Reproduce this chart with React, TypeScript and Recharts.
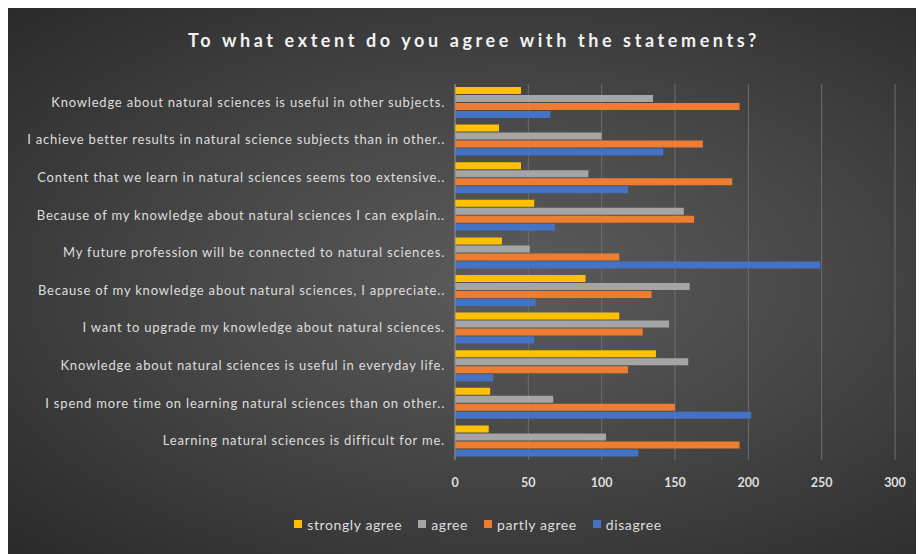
import React from "react";
import { Bar, BarChart, CartesianGrid, Legend, XAxis, YAxis } from "recharts";

const statements = [
  "Knowledge about natural sciences is useful in other subjects.",
  "I achieve better results in natural science subjects than in other..",
  "Content that we learn in natural sciences seems too extensive..",
  "Because of my knowledge about natural sciences I can explain..",
  "My future profession will be connected to natural sciences.",
  "Because of my knowledge about natural sciences, I appreciate..",
  "I want to upgrade my knowledge about natural sciences.",
  "Knowledge about natural sciences is useful in everyday life.",
  "I spend more time on learning natural sciences than on other..",
  "Learning natural sciences is difficult for me.",
];

const stronglyAgree = [45, 30, 45, 54, 32, 89, 112, 137, 24, 23];
const agree = [135, 100, 91, 156, 51, 160, 146, 159, 67, 103];
const partlyAgree = [194, 169, 189, 163, 112, 134, 128, 118, 150, 194];
const disagree = [65, 142, 118, 68, 249, 55, 54, 26, 202, 125];

const xTicks = [0, 50, 100, 150, 200, 250, 300];

const series = [
  { key: "strongly", name: "strongly agree", color: "#ffc000" },
  { key: "agree", name: "agree", color: "#a5a5a5" },
  { key: "partly", name: "partly agree", color: "#ed7d31" },
  { key: "disagree", name: "disagree", color: "#4472c4" },
];

const data = statements.map((s, i) => ({
  statement: s,
  strongly: stronglyAgree[i],
  agree: agree[i],
  partly: partlyAgree[i],
  disagree: disagree[i],
}));

const labelColor = "#dedede";
const font = "Lato, 'Open Sans', sans-serif";

function StatementTick(props: any) {
  const { x, y, payload } = props;
  return (
    <text
      x={x}
      y={y}
      dy={4}
      textAnchor="end"
      fill={labelColor}
      fontSize={13}
      letterSpacing={0.8}
      fontFamily={font}
    >
      {payload.value}
    </text>
  );
}

function LegendBox() {
  return (
    <div style={{ display: "flex", justifyContent: "center", height: 16, alignItems: "center" }}>
      {series.map((s) => (
        <div key={s.key} style={{ display: "flex", alignItems: "center", marginRight: 16 }}>
          <span style={{ width: 8, height: 8, background: s.color, marginRight: 5, display: "inline-block" }} />
          <span style={{ color: labelColor, fontSize: 14, letterSpacing: 0.6 }}>{s.name}</span>
        </div>
      ))}
    </div>
  );
}

export default function App() {
  return (
    <div
      style={{
        position: "relative",
        top: -3,
        width: 916,
        height: 549,
        background: "radial-gradient(ellipse at 55% 50%, #5c5c5c 0%, #474747 45%, #2a2a2a 100%)",
        fontFamily: font,
      }}
    >
      <div
        style={{
          position: "absolute",
          top: 24,
          left: 0,
          width: 932,
          textAlign: "center",
          color: "#f2f2f2",
          fontSize: 18,
          fontWeight: 700,
          letterSpacing: 3.6,
        }}
      >
        To what extent do you agree with the statements?
      </div>
      <BarChart
        width={916}
        height={549}
        data={data}
        layout="vertical"
        margin={{ top: 79, right: 29, bottom: 36, left: 0 }}
        barSize={7}
        barGap={1}
        barCategoryGap={3}
      >
        <CartesianGrid horizontal={false} stroke="#6e6e6e" strokeWidth={1} />
        <XAxis
          type="number"
          domain={[0, 300]}
          ticks={xTicks}
          axisLine={false}
          tickLine={false}
          tickMargin={12}
          height={42}
          tick={{ fill: labelColor, fontSize: 12.5, fontWeight: 700, fontFamily: font }}
        />
        <YAxis
          type="category"
          dataKey="statement"
          width={447}
          axisLine={{ stroke: "#8a8a8a" }}
          tickLine={false}
          tickMargin={4}
          interval={0}
          tick={<StatementTick />}
        />
        <Legend
          verticalAlign="bottom"
          content={<LegendBox />}
          wrapperStyle={{ bottom: 22, left: 0, width: 956, fontFamily: font }}
        />
        {series.map((s) => (
          <Bar key={s.key} dataKey={s.key} name={s.name} fill={s.color} isAnimationActive={false} />
        ))}
      </BarChart>
    </div>
  );
}
